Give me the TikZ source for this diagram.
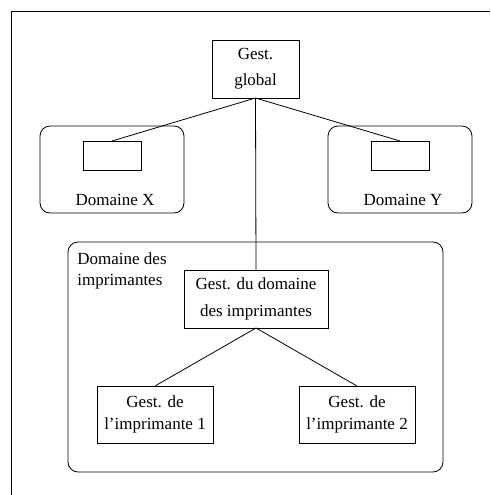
\documentclass[tikz,border=0pt]{standalone}
\usepackage{fontspec}
\setmainfont{Liberation Serif}

\tikzset{
	gest/.style={draw, rectangle, inner sep=0pt, outer sep=0pt, align=center, font=\fontsize{17}{22}\selectfont},
	domaine/.style={draw, rectangle, rounded corners=10pt, inner sep=0pt, outer sep=0pt},
	vide/.style={draw, rectangle, inner sep=0pt, outer sep=0pt, minimum width=58, minimum height=29},
	etiq/.style={inner sep=0pt, align=left, font=\fontsize{17}{21}\selectfont},
}

\begin{document}
\begin{tikzpicture}[x=1pt, y=-1pt, line width=0.8pt]
	\useasboundingbox (0, 0) rectangle (490, 495);
	% Cadre:
	\coordinate (C1) at (11, 495);
	\coordinate (C2) at (11, 11);
	\coordinate (C3) at (490, 11);
	\draw (C1) -- (C2) -- (C3);
	% Domaines et gestionnaires:
	\node[gest, minimum width=87, minimum height=58, font=\fontsize{17}{26}\selectfont] (GG) at (255.5, 69) {Gest.\\global};
	\node[domaine, minimum width=144, minimum height=87] (DX) at (112, 169.5) {};
	\node[vide] (GX) at (112, 155.5) {};
	\node[etiq] (LX) at (115, 200) {Domaine X};
	\node[domaine, minimum width=144, minimum height=87] (DY) at (400, 169.5) {};
	\node[vide] (GY) at (400, 155.5) {};
	\node[etiq] (LY) at (403, 200) {Domaine Y};
	\node[domaine, minimum width=375, minimum height=230] (DI) at (255.5, 357) {};
	\node[etiq, anchor=north west] (LI) at (77, 252) {Domaine des\\imprimantes};
	\node[gest, minimum width=144, minimum height=58, font=\fontsize{17}{27}\selectfont] (GD) at (256, 299) {Gest. du domaine\\des imprimantes};
	\node[gest, minimum width=116, minimum height=57] (G1) at (155, 414.5) {Gest. de\\l'imprimante 1};
	\node[gest, minimum width=116, minimum height=57] (G2) at (357, 414.5) {Gest. de\\l'imprimante 2};
	% Liens:
	\draw (GG.south) -- (GX.north);
	\draw (GG.south) -- (GY.north);
	\draw (GG.south) -- (GD.north);
	\draw (GD.south) -- (G1.north);
	\draw (GD.south) -- (G2.north);
\end{tikzpicture}
\end{document}
